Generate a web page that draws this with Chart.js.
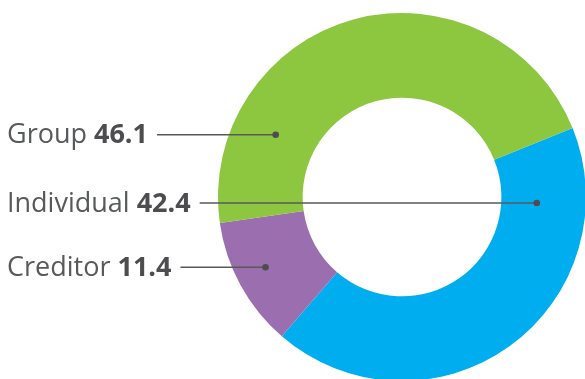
<!DOCTYPE html>
<html>
<head>
<meta charset="utf-8">
<script src="https://cdn.jsdelivr.net/npm/chart.js@4"></script>
<style>
  html, body { margin: 0; padding: 0; width: 585px; height: 379px; overflow: hidden; background: #fff; }
  #wrap { position: absolute; left: 0; top: 0; width: 600px; height: 400px; }
</style>
</head>
<body>
<div id="wrap"><canvas id="chart"></canvas></div>
<script>
// data
const categories = ['Individual', 'Creditor', 'Group'];
const shares = [42.4, 11.4, 46.1];
const sliceColors = ['#00AEEF', '#9B6FAF', '#8DC63F'];

// label rows, top to bottom (index into categories)
const labelOrder = [2, 0, 1];

const calloutPlugin = {
  id: 'callouts',
  afterDraw(chart, args, opts) {
    const ctx = chart.ctx;
    const meta = chart.getDatasetMeta(0);
    ctx.save();
    labelOrder.forEach((idx, row) => {
      const y = opts.rowY[row];
      const arc = meta.data[idx];
      const p = arc.getProps(['x', 'y', 'innerRadius', 'outerRadius'], true);
      const r = p.innerRadius + (p.outerRadius - p.innerRadius) * opts.depth[row];
      const dy = y - p.y;
      const dx = Math.sqrt(Math.max(r * r - dy * dy, 0));
      const dotX = p.x + (opts.side[row] === 'right' ? dx : -dx);

      ctx.textBaseline = 'middle';
      ctx.fillStyle = '#58595B';
      ctx.font = '400 27px "Open Sans"';
      const name = categories[idx] + ' ';
      ctx.fillText(name, opts.textX, y + 1);
      const w1 = ctx.measureText(name).width;
      ctx.font = '700 27px "Open Sans"';
      ctx.fillStyle = '#4D4D4F';
      const val = shares[idx].toFixed(1);
      ctx.fillText(val, opts.textX + w1, y + 1);
      const w2 = ctx.measureText(val).width;

      const startX = opts.textX + w1 + w2 + 9;
      ctx.strokeStyle = '#58595B';
      ctx.lineWidth = 1.5;
      ctx.beginPath();
      ctx.moveTo(startX, y);
      ctx.lineTo(dotX, y);
      ctx.stroke();
      ctx.fillStyle = '#4D4D4F';
      ctx.beginPath();
      ctx.arc(dotX, y, 3.3, 0, Math.PI * 2);
      ctx.fill();
    });
    ctx.restore();
  }
};

new Chart(document.getElementById('chart'), {
  type: 'doughnut',
  data: {
    labels: categories,
    datasets: [{
      data: shares,
      backgroundColor: sliceColors,
      borderWidth: 0,
      hoverOffset: 0
    }]
  },
  options: {
    responsive: true,
    maintainAspectRatio: false,
    animation: false,
    rotation: 68,
    cutout: '54%',
    layout: { padding: { left: 218, right: 14, top: 13, bottom: 19 } },
    plugins: {
      legend: { display: false },
      tooltip: { enabled: false },
      callouts: {
        textX: 7,
        rowY: [134.7, 203, 267.3],
        depth: [0.49, 0.42, 0.64],
        side: ['left', 'right', 'left']
      }
    }
  },
  plugins: [calloutPlugin]
});
</script>
</body>
</html>
